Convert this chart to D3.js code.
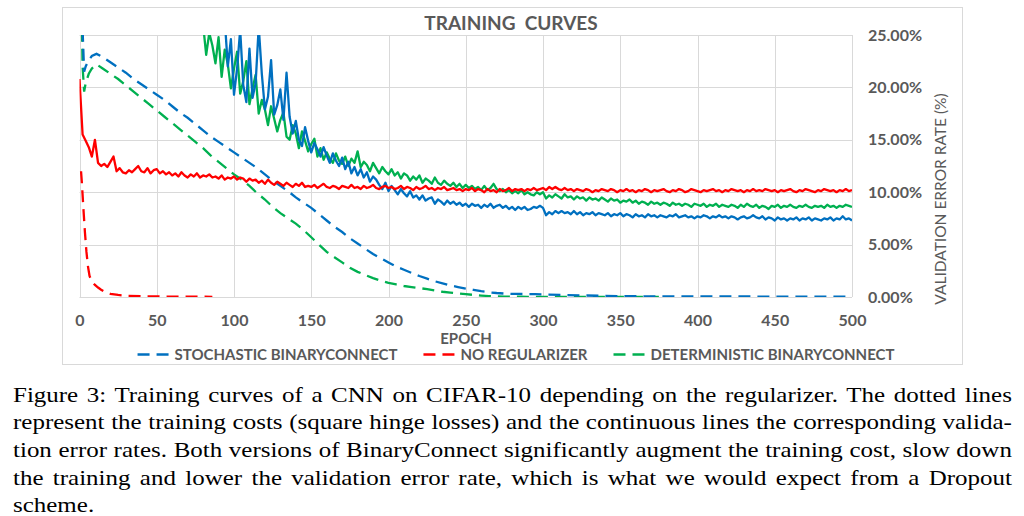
<!DOCTYPE html>
<html>
<head>
<meta charset="utf-8">
<script src="https://cdn.jsdelivr.net/npm/d3@7"></script>
<style>
  html, body { margin: 0; padding: 0; background: #fff; }
  svg { display: block; }
</style>
</head>
<body>
<div id="chart"></div>
<script>
// ---- data ----
// validation error rate (%), one point every 2 epochs (0..500)
const valEpochs = d3.range(0, 501, 2);

const noRegVal = [
  20.8, 15.5, 14.9, 14.3, 13.4, 15.0, 12.8, 12.5, 12.7, 12.4,
  12.9, 13.4, 12.0, 12.3, 11.9, 11.8, 12.1, 11.9, 12.2, 12.5,
  12.0, 11.9, 12.3, 11.8, 12.1, 12.2, 11.8, 12.0, 11.7, 11.9,
  11.6, 11.8, 11.5, 11.9, 11.6, 11.4, 11.7, 11.5, 11.8, 11.4,
  11.6, 11.5, 11.7, 11.4, 11.5, 11.3, 11.6, 11.2, 11.4, 11.3,
  11.5, 11.2, 11.4, 11.3, 11.0, 11.3, 11.1, 11.2, 10.9, 11.1,
  10.8, 11.2, 10.9, 10.7, 11.0, 10.8, 10.6, 10.9, 10.7, 10.5,
  10.8, 10.6, 10.9, 10.5, 10.6, 10.5, 10.7, 10.4, 10.6, 10.8,
  10.5, 10.4, 10.6, 10.5, 10.3, 10.6, 10.5, 10.4, 10.7, 10.4,
  10.5, 10.3, 10.6, 10.4, 10.5, 10.7, 10.4, 10.3, 10.5, 10.6,
  10.4, 10.5, 10.3, 10.4, 10.6, 10.3, 10.5, 10.4, 10.2, 10.5,
  10.3, 10.4, 10.6, 10.3, 10.4, 10.2, 10.4, 10.3, 10.5, 10.2,
  10.3, 10.4, 10.2, 10.3, 10.1, 10.3, 10.2, 10.4, 10.1, 10.3,
  10.2, 10.0, 10.3, 10.1, 10.2, 10.0, 10.3, 10.1, 10.2, 10.4,
  10.1, 10.3, 10.2, 10.3, 10.1, 10.3, 10.2, 10.4, 10.2, 10.3,
  10.4, 10.2, 10.5, 10.3, 10.5, 10.3, 10.2, 10.4, 10.2, 10.3,
  10.1, 10.3, 10.2, 10.1, 10.3, 10.2, 10.0, 10.2, 10.1, 10.3,
  10.2, 10.1, 10.3, 10.2, 10.0, 10.2, 10.1, 10.3, 10.1, 10.2,
  10.0, 10.2, 10.1, 10.3, 10.2, 10.0, 10.2, 10.1, 10.2, 10.3,
  10.1, 10.0, 10.2, 10.1, 10.3, 10.2, 10.0, 10.1, 10.3, 10.2,
  10.1, 10.0, 10.2, 10.1, 10.2, 10.3, 10.1, 10.2, 10.0, 10.2,
  10.1, 10.3, 10.2, 10.1, 10.2, 10.0, 10.2, 10.1, 10.3, 10.1,
  10.2, 10.1, 10.3, 10.2, 10.1, 10.2, 10.0, 10.2, 10.1, 10.2,
  10.3, 10.1, 10.0, 10.2, 10.1, 10.3, 10.2, 10.1, 10.0, 10.2,
  10.1, 10.3, 10.2, 10.1, 10.2, 10.0, 10.2, 10.1, 10.3, 10.1,
  10.2
];

const detVal = [
  null, null, null, null, null, null, null, null, null, null,
  null, null, null, null, null, null, null, null, null, null,
  null, null, null, null, null, null, null, null, null, null,
  null, null, null, null, null, null, null, null, 32.0, 27.0,
  26.0, 23.1, 25.2, 24.0, 22.3, 24.8, 21.0, 23.6, 22.2, 19.9,
  21.8, 23.4, 19.4, 20.6, 22.5, 18.4, 19.9, 21.2, 17.5, 18.8,
  17.9, 16.4, 18.2, 17.0, 15.8, 16.9, 17.6, 15.3, 15.0, 16.4,
  15.6, 14.2, 15.8, 14.9, 13.9, 14.6, 15.1, 13.4, 14.2, 13.1,
  13.8, 13.2, 12.8, 13.7, 13.0, 12.7, 13.4, 12.5, 13.2, 12.8,
  13.9, 12.4, 12.9, 12.6, 12.0, 12.8, 12.3, 11.8, 12.4, 12.0,
  11.7, 12.2, 11.6, 11.9, 11.3, 11.8, 11.6, 11.1, 11.5, 11.2,
  11.6, 10.9, 11.3, 11.1, 10.8, 11.4, 10.9, 10.7, 11.1, 10.8,
  10.6, 10.9, 10.5, 10.8, 10.4, 10.7, 10.4, 10.6, 10.3, 10.5,
  10.2, 10.6, 10.2, 10.4, 10.8, 10.3, 10.1, 10.3, 10.0, 10.2,
  9.9, 10.1, 9.9, 10.2, 9.8, 10.0, 9.8, 9.7, 10.0, 9.8,
  10.0, 9.4, 9.7, 9.5, 9.8, 9.6, 9.4, 9.8, 9.5, 9.6,
  9.3, 9.6, 9.4, 9.5, 9.2, 9.5, 9.3, 9.4, 9.2, 9.5,
  9.3, 9.1, 9.4, 9.2, 9.3, 9.0, 9.2, 9.1, 9.3, 9.0,
  9.2, 8.9, 9.1, 9.0, 8.8, 9.1, 8.9, 9.0, 8.8, 9.0,
  8.9, 8.7, 9.0, 8.8, 8.9, 8.7, 8.9, 8.8, 8.6, 8.9,
  8.8, 8.7, 8.9, 8.6, 8.8, 8.7, 8.9, 8.6, 8.8, 8.7,
  8.6, 8.8, 8.7, 8.5, 8.8, 8.6, 8.9, 8.7, 8.6, 8.8,
  8.5, 8.7, 8.6, 8.4, 8.7, 8.6, 8.8, 8.5, 8.7, 8.6,
  8.8, 8.6, 8.5, 8.7, 8.6, 8.8, 8.6, 8.5, 8.7, 8.6,
  8.7, 8.5, 8.8, 8.6, 8.7, 8.5, 8.7, 8.6, 8.8, 8.7,
  8.6
];

const stochVal = [
  null, null, null, null, null, null, null, null, null, null,
  null, null, null, null, null, null, null, null, null, null,
  null, null, null, null, null, null, null, null, null, null,
  null, null, null, null, null, null, null, null, null, null,
  null, null, null, null, null, null, 30.0, 26.5, 22.0, 24.6,
  19.3, 21.8, 25.5, 20.2, 18.6, 23.7, 19.0, 20.4, 25.8, 21.3,
  17.9, 19.1, 22.6, 17.4, 18.3, 19.8, 16.9, 21.4, 17.2, 15.6,
  16.8, 15.0, 14.4, 16.2, 14.9, 13.8, 14.7, 14.1, 13.4, 14.3,
  13.5, 12.8, 13.7, 13.0, 12.5, 13.3, 12.2, 12.9, 11.8, 12.4,
  11.6, 12.2, 11.4, 11.9, 11.0, 11.5, 11.2, 10.7, 10.3, 10.9,
  10.1, 10.6, 10.2, 9.8, 10.3, 9.9, 9.6, 10.1, 9.5, 9.7,
  9.3, 9.7, 9.2, 9.4, 9.5, 8.9, 9.3, 9.1, 8.8, 9.2,
  8.9, 9.1, 8.8, 9.0, 8.7, 8.9, 8.6, 8.9, 8.7, 8.8,
  8.5, 8.8, 8.6, 8.9, 8.5, 8.7, 8.8, 8.5, 8.7, 8.4,
  8.6, 8.3, 8.6, 8.4, 8.6, 8.3, 8.4, 8.6, 8.5, 8.7,
  8.5, 7.8, 8.1, 7.9, 8.2, 8.0, 8.2, 8.0, 8.1, 7.9,
  8.2, 7.9, 8.1, 7.8, 8.0, 7.9, 8.1, 7.8, 8.0, 7.9,
  7.8, 8.0, 7.7, 7.9, 7.8, 8.0, 7.7, 7.9, 7.8, 7.6,
  7.9, 7.7, 7.8, 7.6, 7.9, 7.7, 7.8, 7.6, 7.8, 7.7,
  7.6, 7.8, 7.7, 7.9, 7.6, 7.7, 7.8, 7.6, 7.7, 7.5,
  7.7, 7.6, 7.8, 7.7, 7.5, 7.7, 7.6, 7.8, 7.6, 7.7,
  7.5, 7.7, 7.6, 7.4, 7.6, 7.7, 7.5, 7.6, 7.8, 7.6,
  7.5, 7.7, 7.4, 7.6, 7.5, 7.3, 7.6, 7.4, 7.5, 7.3,
  7.5, 7.4, 7.6, 7.3, 7.5, 7.4, 7.6, 7.3, 7.5, 7.4,
  7.3, 7.5, 7.4, 7.6, 7.3, 7.5, 7.4, 7.7, 7.4, 7.5,
  7.3
];

// training cost (square hinge loss), drawn on an unlabelled left axis
const costEpochs = [
  0, 2, 3, 4, 6, 8, 11,
  15, 20, 25, 30, 35, 40, 45, 50, 55, 60,
  65, 70, 75, 80, 85, 90, 95, 100, 105, 110,
  115, 120, 125, 130, 135, 140, 145, 150, 155, 160,
  165, 170, 175, 180, 185, 190, 195, 200, 205, 210,
  215, 220, 225, 230, 235, 240, 245, 250, 255, 260,
  265, 270, 275, 280, 285, 290, 295, 300,
  325, 350, 375, 400, 425, 450, 475, 500
];
const stochCost = [
  0.400, 0.255, 0.215, 0.220, 0.226, 0.230, 0.232,
  0.229, 0.224, 0.219, 0.214, 0.208, 0.203, 0.198, 0.193, 0.188, 0.182,
  0.176, 0.171, 0.165, 0.159, 0.153, 0.148, 0.143, 0.138, 0.133, 0.128,
  0.123, 0.117, 0.111, 0.106, 0.101, 0.095, 0.090, 0.085, 0.079, 0.073,
  0.067, 0.062, 0.056, 0.051, 0.046, 0.041, 0.037, 0.033, 0.029, 0.026,
  0.023, 0.020, 0.0175, 0.015, 0.013, 0.011, 0.0095, 0.008, 0.0068, 0.0055,
  0.0045, 0.0038, 0.0033, 0.0030, 0.0029, 0.0028, 0.0027, 0.0025,
  0.0015, 0.0008, 0.0006, 0.0005, 0.0005, 0.0004, 0.0004, 0.0003
];
const detCost = [
  0.400, 0.220, 0.196, 0.204, 0.213, 0.218, 0.222,
  0.218, 0.213, 0.208, 0.202, 0.196, 0.190, 0.184, 0.178, 0.172, 0.166,
  0.160, 0.154, 0.148, 0.142, 0.135, 0.129, 0.123, 0.117, 0.112, 0.106,
  0.099, 0.093, 0.086, 0.080, 0.075, 0.070, 0.064, 0.057, 0.050, 0.043,
  0.038, 0.033, 0.028, 0.024, 0.021, 0.018, 0.0155, 0.0135, 0.012, 0.0105,
  0.0095, 0.0085, 0.0075, 0.0062, 0.0050, 0.0042, 0.0035, 0.0028, 0.0020, 0.0014,
  0.0009, 0.0006, 0.0004, 0.0003, 0.0003, 0.0002, 0.0002, 0.0002,
  0.0002, 0.0002, 0.0002, null, null, null, null, null
];
const noRegCostEpochs = [1, 1.5, 2.5, 3.5, 4.5, 5.5, 6.5, 8, 10, 12, 14, 17, 20, 25, 30, 40, 50, 60, 70, 86];
const noRegCost = [0.120, 0.110, 0.085, 0.062, 0.043, 0.029, 0.020, 0.015, 0.0115, 0.009,
                   0.007, 0.0045, 0.003, 0.002, 0.0012, 0.0008, 0.0005, 0.0004, 0.0003, 0.0002];

const xTicks = [0, 50, 100, 150, 200, 250, 300, 350, 400, 450, 500];
const yTicks = [0, 5, 10, 15, 20, 25];

const seriesNames = ["STOCHASTIC BINARYCONNECT", "NO REGULARIZER", "DETERMINISTIC BINARYCONNECT"];
const seriesColors = ["#0070C0", "#FF0000", "#00B050"];

const captionLines = [
  "Figure 3: Training curves of a CNN on CIFAR-10 depending on the regularizer. The dotted lines",
  "represent the training costs (square hinge losses) and the continuous lines the corresponding valida-",
  "tion error rates. Both versions of BinaryConnect significantly augment the training cost, slow down",
  "the training and lower the validation error rate, which is what we would expect from a Dropout",
  "scheme."
];

// ---- layout ----
const W = 1024, H = 516;
const plot = { left: 79.5, right: 852, top: 35, bottom: 297 };
const textColor = "#595959";
const gridColor = "#d9d9d9";
const chartFont = "Lato, 'Open Sans', sans-serif";
const dash = "12,7";

const svg = d3.select("#chart").append("svg")
  .attr("width", W)
  .attr("height", H);

// chart frame
svg.append("rect")
  .attr("x", 62.5).attr("y", 7.5)
  .attr("width", 900).attr("height", 357)
  .attr("fill", "#fff")
  .attr("stroke", gridColor)
  .attr("stroke-width", 1);

const x = d3.scaleLinear().domain([0, 500]).range([plot.left, plot.right]);
const y = d3.scaleLinear().domain([0, 25]).range([plot.bottom, plot.top]);
// cost axis is hidden in the original
const yCost = d3.scaleLinear().domain([0, 0.25]).range([plot.bottom, plot.top]);

// gridlines
svg.append("g")
  .selectAll("line")
  .data(yTicks)
  .enter().append("line")
  .attr("x1", plot.left).attr("x2", plot.right)
  .attr("y1", d => Math.round(y(d)) + 0.5).attr("y2", d => Math.round(y(d)) + 0.5)
  .attr("stroke", gridColor).attr("stroke-width", 1);

svg.append("g")
  .selectAll("line")
  .data(xTicks)
  .enter().append("line")
  .attr("x1", d => Math.round(x(d)) + 0.5).attr("x2", d => Math.round(x(d)) + 0.5)
  .attr("y1", plot.top).attr("y2", plot.bottom)
  .attr("stroke", gridColor).attr("stroke-width", 1);

// axes (labels only)
const xAxis = svg.append("g")
  .attr("transform", `translate(0,${plot.bottom})`)
  .call(d3.axisBottom(x).tickValues(xTicks).tickSize(0).tickPadding(18));
xAxis.select(".domain").remove();
xAxis.selectAll("text")
  .style("font-family", chartFont)
  .style("font-size", "16px")
  .style("font-weight", "bold")
  .attr("fill", textColor);

const yAxis = svg.append("g")
  .attr("transform", `translate(${plot.right},0)`)
  .call(d3.axisRight(y).tickValues(yTicks).tickSize(0).tickPadding(16)
    .tickFormat(d => d.toFixed(2) + "%"));
yAxis.select(".domain").remove();
yAxis.selectAll("text")
  .style("font-family", chartFont)
  .style("font-size", "16px")
  .style("font-weight", "bold")
  .attr("fill", textColor);

// clip to plot area
svg.append("clipPath").attr("id", "plotClip")
  .append("rect")
  .attr("x", plot.left).attr("y", plot.top)
  .attr("width", plot.right - plot.left).attr("height", plot.bottom - plot.top);

const lines = svg.append("g").attr("clip-path", "url(#plotClip)");

const costLine = d3.line()
  .defined(d => d[1] != null)
  .x(d => x(d[0]))
  .y(d => yCost(d[1]));

const valLine = d3.line()
  .defined(d => d[1] != null)
  .x(d => x(d[0]))
  .y(d => y(d[1]));

const costSeries = [
  { epochs: costEpochs, values: detCost, color: seriesColors[2] },
  { epochs: costEpochs, values: stochCost, color: seriesColors[0] },
  { epochs: noRegCostEpochs, values: noRegCost, color: seriesColors[1] }
];

costSeries.forEach(s => {
  lines.append("path")
    .datum(s.epochs.map((e, i) => [e, s.values[i]]))
    .attr("d", costLine)
    .attr("fill", "none")
    .attr("stroke", s.color)
    .attr("stroke-width", 2.3)
    .attr("stroke-dasharray", dash);
});

const valSeries = [
  { values: detVal, color: seriesColors[2] },
  { values: stochVal, color: seriesColors[0] },
  { values: noRegVal, color: seriesColors[1] }
];

valSeries.forEach(s => {
  lines.append("path")
    .datum(valEpochs.map((e, i) => [e, s.values[i]]))
    .attr("d", valLine)
    .attr("fill", "none")
    .attr("stroke", s.color)
    .attr("stroke-width", 2.3)
    .attr("stroke-linejoin", "round");
});

// title
svg.append("text")
  .attr("x", 511).attr("y", 30)
  .attr("text-anchor", "middle")
  .style("font-family", chartFont)
  .style("font-size", "19px")
  .style("font-weight", "bold")
  .style("white-space", "pre")
  .attr("fill", textColor)
  .text("TRAINING  CURVES");

// x axis title
svg.append("text")
  .attr("x", 466).attr("y", 344)
  .attr("text-anchor", "middle")
  .style("font-family", chartFont)
  .style("font-size", "15px")
  .style("font-weight", "bold")
  .attr("fill", textColor)
  .text("EPOCH");

// right axis title
svg.append("text")
  .attr("transform", "translate(946,199) rotate(-90)")
  .attr("text-anchor", "middle")
  .style("font-family", chartFont)
  .style("font-size", "15.5px")
  .attr("fill", textColor)
  .text("VALIDATION ERROR RATE (%)");

// legend
const legend = svg.append("g");
let lx = 0;
seriesNames.forEach((name, i) => {
  const item = legend.append("g").attr("transform", `translate(${lx},0)`);
  item.append("line")
    .attr("x1", 0).attr("x2", 33)
    .attr("y1", -5.5).attr("y2", -5.5)
    .attr("stroke", seriesColors[i])
    .attr("stroke-width", 2.3)
    .attr("stroke-dasharray", dash);
  const t = item.append("text")
    .attr("x", 37).attr("y", 0)
    .style("font-family", chartFont)
    .style("font-size", "15px")
    .style("font-weight", "bold")
    .attr("fill", textColor)
    .text(name);
  lx += 37 + t.node().getComputedTextLength() + 26;
});
lx -= 26;
legend.attr("transform", `translate(${516 - lx / 2},360)`);

// caption: justified lines; the source figure is a bit wider than tall,
// so glyphs get one common horizontal stretch and the rest goes to word spacing
const capLeft = 13, capRight = 1012;
const capWidth = capRight - capLeft;
const capGroup = svg.append("g");
const capTexts = captionLines.map((line, i) => capGroup.append("text")
  .attr("x", 0)
  .attr("y", 0)
  .style("font-family", "'Liberation Serif', 'Times New Roman', serif")
  .style("font-size", "21.8px")
  .attr("fill", "#000")
  .text(line));
const widths = capTexts.map(t => t.node().getComputedTextLength());
const stretch = capWidth / d3.max(widths.slice(0, -1)) * 0.995;
capTexts.forEach((t, i) => {
  t.attr("transform", `translate(${capLeft},${401.5 + i * 27.7}) scale(${stretch},1)`);
  if (i < captionLines.length - 1) {
    const gaps = captionLines[i].split(" ").length - 1;
    t.style("word-spacing", ((capWidth / stretch - widths[i]) / gaps) + "px");
  }
});
</script>
</body>
</html>
